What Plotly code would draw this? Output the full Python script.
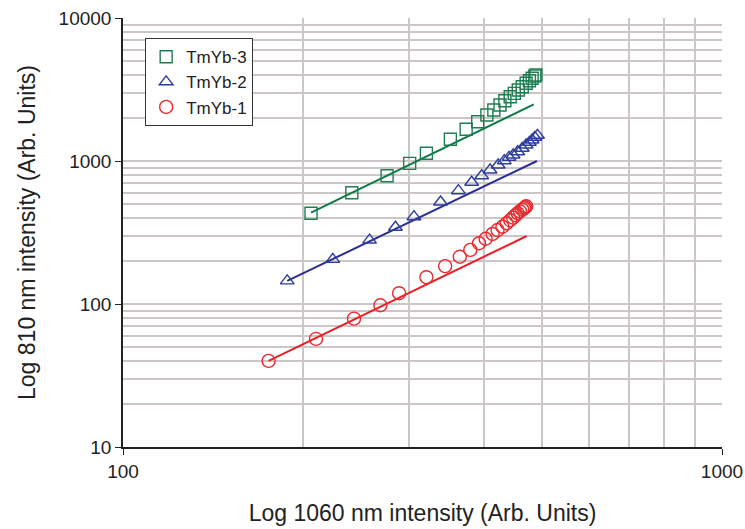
import plotly.graph_objects as go

# --- data (log-log) ---
tm1_x = [175, 210, 243, 269, 289, 321, 345, 365, 380, 393, 403, 414, 422,
         430, 437, 443, 448, 452, 456, 460, 464, 467, 469, 471]
tm1_y = [40, 57, 79, 98, 119, 154, 184, 214, 239, 266, 286, 309, 329,
         347, 367, 385, 402, 417, 431, 445, 457, 467, 475, 482]

tm2_x = [188, 224, 258, 285, 306, 339, 363, 382, 397, 410, 423, 433, 441,
         448, 456, 464, 471, 477, 482, 487, 492]
tm2_y = [145, 205, 280, 344, 408, 517, 620, 710, 789, 865, 938, 1005, 1061,
         1102, 1161, 1227, 1294, 1351, 1402, 1465, 1513]

tm3_x = [206, 241, 276, 301, 321, 352, 374, 391, 405, 416, 426, 434, 443,
         450, 457, 464, 471, 477, 482, 487, 489]
tm3_y = [431, 600, 789, 963, 1132, 1418, 1666, 1883, 2098, 2273, 2464, 2641, 2817,
         2973, 3137, 3309, 3494, 3645, 3786, 3930, 4000]

# power-law fit lines (end points)
fit1_x = [175, 472]
fit1_y = [40, 299]
fit2_x = [188, 491]
fit2_y = [145, 1000]
fit3_x = [206, 485]
fit3_y = [435, 2490]

names = ["TmYb-3", "TmYb-2", "TmYb-1"]
x_ticks = [100, 1000]
y_ticks = [10, 100, 1000, 10000]

green_m, green_l = "#1f7d52", "#0c7a45"
blue_m, blue_l = "#2d3d9c", "#2b2e92"
red_m, red_l = "#ea2a2e", "#ee1c24"

fig = go.Figure()

# fit lines (no legend)
for fx, fy, c in [(fit3_x, fit3_y, green_l), (fit2_x, fit2_y, blue_l), (fit1_x, fit1_y, red_l)]:
    fig.add_trace(go.Scatter(x=fx, y=fy, mode="lines", line=dict(color=c, width=2),
                             showlegend=False, hoverinfo="skip"))

# markers
fig.add_trace(go.Scatter(x=tm3_x, y=tm3_y, mode="markers", name=names[0],
                         marker=dict(symbol="square-open", size=12, color=green_m,
                                     line=dict(width=1.4, color=green_m))))
fig.add_trace(go.Scatter(x=tm2_x, y=tm2_y, mode="markers", name=names[1],
                         marker=dict(symbol="triangle-up-open", size=12, color=blue_m,
                                     line=dict(width=1.4, color=blue_m))))
fig.add_trace(go.Scatter(x=tm1_x, y=tm1_y, mode="markers", name=names[2],
                         marker=dict(symbol="circle-open", size=13, color=red_m,
                                     line=dict(width=1.4, color=red_m))))

minor_x = [v * m for v in (100,) for m in range(2, 10)]
minor_y = [v * m for v in (10, 100, 1000) for m in range(2, 10)]
grid_c = "#cdc6c6"

fig.update_xaxes(type="log", range=[2, 3], tickvals=x_ticks, ticktext=[str(v) for v in x_ticks],
                 showgrid=True, gridcolor=grid_c, gridwidth=1.6,
                 minor=dict(tickvals=minor_x, showgrid=True, gridcolor=grid_c, gridwidth=1.6, ticklen=0),
                 showline=True, linecolor="#222", linewidth=1.5,
                 ticks="outside", ticklen=6, tickcolor="#222",
                 tickfont=dict(size=19, color="#222"),
                 title=dict(text="Log 1060 nm intensity (Arb. Units)", font=dict(size=23, color="#222"),
                            standoff=24),
                 automargin=False, zeroline=False)
fig.update_yaxes(type="log", range=[1, 4], tickvals=y_ticks, ticktext=[str(v) for v in y_ticks],
                 showgrid=True, gridcolor=grid_c, gridwidth=1.6,
                 minor=dict(tickvals=minor_y, showgrid=True, gridcolor=grid_c, gridwidth=1.6, ticklen=0),
                 showline=True, linecolor="#222", linewidth=1.5,
                 ticks="outside", ticklen=6, tickcolor="#222",
                 tickfont=dict(size=19, color="#222"),
                 title=dict(text="Log 810 nm intensity (Arb. Units)", font=dict(size=23, color="#222"),
                            standoff=17),
                 automargin=False, zeroline=False)

fig.update_layout(
    width=745, height=529,
    margin=dict(l=123, r=23, t=18, b=82, autoexpand=False),
    paper_bgcolor="white", plot_bgcolor="white",
    font=dict(family="Liberation Sans, Arial, sans-serif", color="#222"),
    legend=dict(x=0.037, y=0.953, xanchor="left", yanchor="top",
                bgcolor="white", bordercolor="#333", borderwidth=1,
                font=dict(size=17, color="#222"), itemwidth=30,
                tracegroupgap=0),
    showlegend=True,
)

fig.write_html("out.html",
               config={"displayModeBar": False},
               post_script="document.body.style.margin='0';document.body.style.overflow='hidden';")
